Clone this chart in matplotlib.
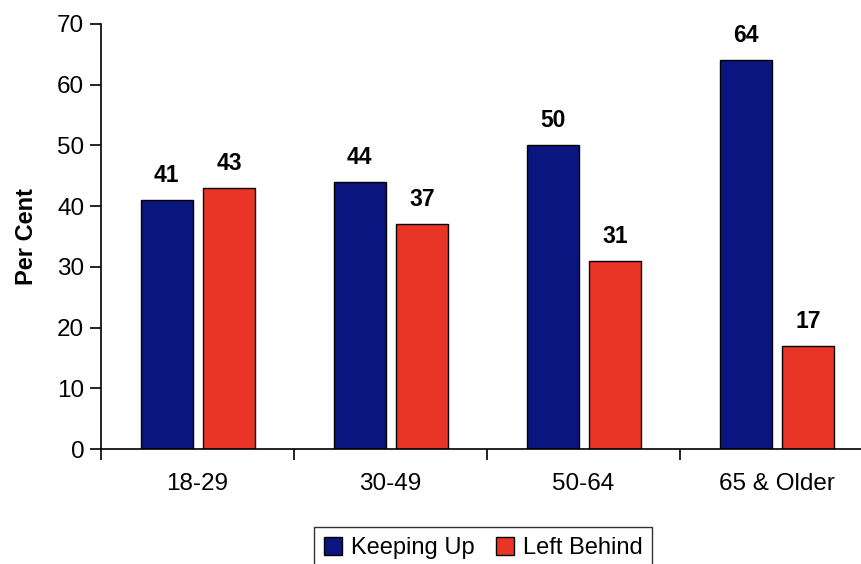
import numpy as np
import matplotlib.pyplot as plt
from matplotlib.ticker import FixedLocator, NullFormatter

plt.rcParams['font.family'] = ['Liberation Sans', 'DejaVu Sans']

# Share of each age group keeping up vs. left behind
age_groups = ['18-29', '30-49', '50-64', '65 & Older']
keeping_up = [41, 44, 50, 64]
left_behind = [43, 37, 31, 17]

navy = '#0b1580'
red = '#e83526'

fig = plt.figure(figsize=(8.62, 5.64), dpi=100)
ax = fig.add_axes([101 / 862, 115 / 564, 761 / 862, 425 / 564])

x = np.arange(len(age_groups))
w = 0.27
b1 = ax.bar(x - 0.16, keeping_up, w, color=navy, edgecolor='black', linewidth=1, label='Keeping Up')
b2 = ax.bar(x + 0.165, left_behind, w, color=red, edgecolor='black', linewidth=1, label='Left Behind')

for bars in (b1, b2):
    for rect in bars:
        h = rect.get_height()
        ax.annotate(f'{h:g}', (rect.get_x() + rect.get_width() / 2, h),
                    xytext=(0, 9.5), textcoords='offset points',
                    ha='center', va='bottom', fontsize=16.5, fontweight='bold')

ax.set_ylim(0, 70)
ax.set_xlim(-0.5, -0.5 + 761 / 193)
ax.set_yticks(range(0, 71, 10))
ax.tick_params(axis='y', labelsize=17.5, length=8, width=1.2, direction='out', pad=4)

# category labels centered, tick marks on group boundaries
ax.set_xticks(x)
ax.set_xticklabels(age_groups, fontsize=17.5)
ax.tick_params(axis='x', which='major', length=0, pad=17)
ax.xaxis.set_minor_locator(FixedLocator(np.arange(-0.5, len(age_groups), 1.0)))
ax.xaxis.set_minor_formatter(NullFormatter())
ax.tick_params(axis='x', which='minor', length=8, width=1.2, direction='out')

ax.spines['top'].set_visible(False)
ax.spines['right'].set_visible(False)
ax.spines['left'].set_linewidth(1.2)
ax.spines['bottom'].set_linewidth(1.2)

ax.set_ylabel('Per Cent', fontsize=17, fontweight='bold', labelpad=14)

fig.legend(loc='center', bbox_to_anchor=(483 / 862, 16 / 564), ncol=2,
           fontsize=17, frameon=True, fancybox=False, edgecolor='black',
           handlelength=0.8, handleheight=0.8, handletextpad=0.35,
           columnspacing=0.9, borderpad=0.4)

fig.savefig('out.png', dpi=100)
